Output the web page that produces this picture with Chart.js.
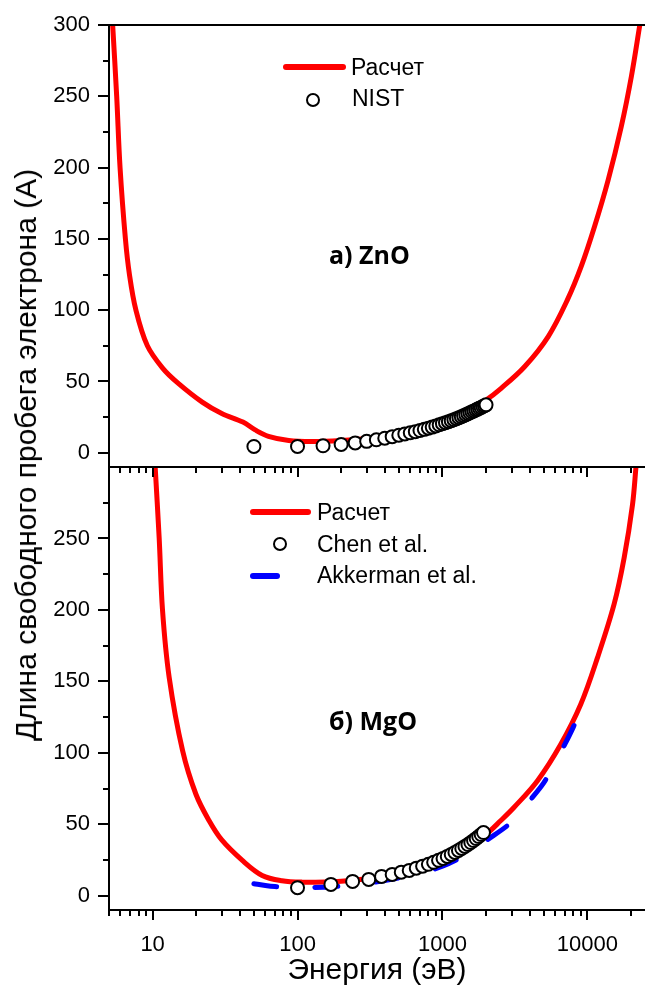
<!DOCTYPE html>
<html><head><meta charset="utf-8">
<script src="https://cdn.jsdelivr.net/npm/chart.js@4.4.1/dist/chart.umd.min.js"></script>
<style>
html,body{margin:0;padding:0;background:#fff;overflow:hidden;}
#wrap{position:relative;width:645px;height:996px;background:#fff;font-family:"Liberation Sans",Arial,sans-serif;color:#000;overflow:hidden;}
canvas{position:absolute;left:0;}
#cTop{top:0;z-index:2;}
#cBot{top:440px;z-index:1;}
.t{position:absolute;white-space:nowrap;line-height:1;z-index:3;}
.lg{font-size:23px;}
.pl{font-family:"Open Sans",sans-serif;font-weight:700;font-size:25px;}
.rl{position:absolute;height:6px;border-radius:3px;background:#ff0000;z-index:3;}
.bl{position:absolute;height:6px;border-radius:3px;background:#0000ff;z-index:3;}
.ci{position:absolute;width:14px;height:14px;box-sizing:border-box;border:2px solid #000;border-radius:50%;background:#fff;z-index:3;}
</style></head>
<body><div id="wrap">
<canvas id="cBot" width="645" height="556"></canvas>
<canvas id="cTop" width="645" height="490"></canvas>

<div class="rl" style="left:283px;top:64px;width:63px;"></div>
<div class="t lg" style="left:351px;top:55.5px;">Расчет</div>
<div class="ci" style="left:306px;top:93px;"></div>
<div class="t lg" style="left:352px;top:86.5px;">NIST</div>
<div class="t pl" style="left:329px;top:242px;">а) ZnO</div>

<div class="rl" style="left:250px;top:509px;width:61px;"></div>
<div class="t lg" style="left:317px;top:501px;">Расчет</div>
<div class="ci" style="left:273px;top:537px;"></div>
<div class="t lg" style="left:317px;top:533px;">Chen et al.</div>
<div class="bl" style="left:250px;top:573px;width:30px;"></div>
<div class="t lg" style="left:317px;top:564px;">Akkerman et al.</div>
<div class="t pl" style="left:329px;top:708px;">б) MgO</div>

<div class="t" style="left:26px;top:455px;font-size:30px;transform:translate(-50%,-50%) rotate(-90deg);">Длина свободного пробега электрона (A)</div>
</div>
<script>
// ---- axes ----
const xMin = 5, xMax = 25000;
const xMajorTicks = [10, 100, 1000, 10000];
const xMinorTicks = [5, 6, 7, 8, 9, 20, 30, 40, 50, 60, 70, 80, 90, 200, 300, 400, 500, 600, 700, 800, 900,
                     2000, 3000, 4000, 5000, 6000, 7000, 8000, 9000, 20000];
const yTicksTop = [0, 50, 100, 150, 200, 250, 300];
const yTicksBottom = [0, 50, 100, 150, 200, 250];
const yMinorTicks = [25, 75, 125, 175, 225, 275];

// ---- а) ZnO ----
const znoCalcE = [5.3, 5.65, 5.96, 6.49, 6.92, 7.67, 9.2, 11.8, 14.9, 22, 30, 42, 51, 63, 87, 126, 200, 300, 500,
                  1000, 1500, 2000, 2530, 3700, 5370, 7270, 9100, 11240, 13900, 17170, 20140, 23100];
const znoCalcL = [300, 250, 200, 150, 125, 100, 75, 59, 49, 35.5, 27.5, 21.5, 16, 11.5, 8.6, 7.9, 8.6, 10, 13.5,
                  21.5, 29.5, 37, 45, 60.5, 81.5, 107, 131, 159, 191, 229, 264, 301];
const nistE = [50, 100, 150, 200, 250, 300, 350, 400, 450, 500, 550, 600, 650, 700, 750, 800, 850, 900, 950, 1000,
               1050, 1100, 1150, 1200, 1250, 1300, 1350, 1400, 1450, 1500, 1550, 1600, 1650, 1700, 1750, 1800, 1850, 1900, 1950, 2000];
const nistL = [4.4, 4.4, 4.9, 5.8, 6.9, 8.0, 9.1, 10.2, 11.3, 12.3, 13.2, 14.0, 14.8, 15.6, 16.4, 17.2, 18.0, 18.8, 19.6, 20.4,
               21.1, 21.8, 22.5, 23.2, 23.9, 24.6, 25.3, 26.0, 26.7, 27.4, 28.0, 28.7, 29.3, 30.0, 30.6, 31.2, 31.8, 32.4, 33.0, 33.6];

// ---- б) MgO ----
const mgoCalcE = [10.4, 11.1, 11.7, 13.0, 16.1, 19.9, 24.5, 30, 41.6, 57, 78, 108, 180, 300, 500, 1000, 1500, 2000, 2530, 3126,
                  4530, 6560, 9010, 11750, 15300, 17950, 20500, 21700];
const mgoCalcL = [301, 250, 200, 153, 101.5, 71, 52.6, 39, 24.7, 14.2, 10.5, 9.5, 9.7, 11.8, 16.0, 26, 35, 43, 52.6, 61.9,
                  80.5, 106, 134, 166.6, 204, 236.5, 273.7, 301];
const chenE = [100, 170, 240, 310, 380, 450, 520, 590, 660, 730, 800, 870, 940, 1010, 1080, 1150, 1220, 1290, 1360, 1430,
               1500, 1570, 1640, 1710, 1780, 1850, 1920];
const chenL = [5.6, 7.9, 10.0, 11.4, 13.5, 14.9, 16.5, 17.7, 19.3, 20.7, 22.0, 23.4, 24.8, 26.1, 27.5, 28.9, 30.3, 31.7, 33.1, 34.5,
               35.8, 37.2, 38.6, 40.0, 41.4, 42.8, 44.2];
const akkE = [50, 60, 70, 80, 100, 150, 200, 300, 400, 500, 700, 1000, 1500, 2000, 3000, 4000, 5000, 6000, 7000, 8000, 9000, 10000];
const akkL = [8.4, 7.2, 6.4, 6.0, 5.7, 5.9, 6.9, 8.8, 10.6, 12.4, 15.8, 20.6, 29.5, 38.5, 51.5, 66.5, 79, 93, 106, 118, 130, 140.5];

const pts = (xs, ys) => xs.map((x, i) => ({x: x, y: ys[i]}));

Chart.defaults.font.family = '"Liberation Sans", Arial, sans-serif';
Chart.defaults.color = '#000';

const frame = {
  id: 'frame',
  afterDraw(chart, args, o) {
    const {ctx, chartArea: a} = chart;
    const xs = chart.scales.x, ys = chart.scales.y;
    ctx.save();
    ctx.strokeStyle = '#000';
    ctx.lineWidth = 2;
    ctx.beginPath();
    for (const v of o.yMajor.concat(yMinorTicks)) {
      if (v > ys.max) continue;
      const py = Math.round(ys.getPixelForValue(v));
      const len = o.yMajor.includes(v) ? 11 : 6;
      ctx.moveTo(a.left - len, py); ctx.lineTo(a.left, py);
    }
    for (const v of xMajorTicks.concat(xMinorTicks)) {
      const px = Math.round(xs.getPixelForValue(v));
      if (px < a.left || px > a.right) continue;
      const len = xMajorTicks.includes(v) ? 10 : 6;
      ctx.moveTo(px, a.bottom); ctx.lineTo(px, a.bottom + len);
    }
    ctx.stroke();
    ctx.beginPath();
    ctx.moveTo(a.right + 2, a.top); ctx.lineTo(a.left, a.top);
    ctx.lineTo(a.left, a.bottom); ctx.lineTo(a.right + 2, a.bottom);
    ctx.stroke();
    ctx.restore();
  }
};

const noPad = s => { s.paddingTop = 0; s.paddingBottom = 0; s.paddingLeft = 0; s.paddingRight = 0; };

function yScale(tickList) {
  return {
    type: 'linear', min: -10, max: 300,
    grid: {display: false, drawTicks: false}, border: {display: false},
    afterBuildTicks: s => { s.ticks = tickList.map(v => ({value: v})); },
    afterFit: s => { s.width = 109; noPad(s); },
    ticks: {padding: 19, font: {size: 22}, color: '#000', callback: v => String(v)}
  };
}

const common = {responsive: false, animation: false, devicePixelRatio: 1, events: []};

const circleStyle = {showLine: false, pointRadius: 6.5, pointBackgroundColor: '#fff', pointBorderColor: '#000', pointBorderWidth: 2};
const redStyle = {showLine: true, borderColor: '#ff0000', borderWidth: 5, pointRadius: 0, tension: 0.35, fill: false};

new Chart(document.getElementById('cTop'), {
  type: 'scatter',
  data: {datasets: [
    Object.assign({label: 'NIST', data: pts(nistE, nistL), order: 0}, circleStyle),
    Object.assign({label: 'Расчет', data: pts(znoCalcE, znoCalcL), order: 2}, redStyle)
  ]},
  options: Object.assign({}, common, {
    layout: {autoPadding: false, padding: {top: 25, bottom: 23, left: 0, right: 0}},
    plugins: {legend: {display: false}, tooltip: {enabled: false}, frame: {yMajor: yTicksTop}},
    scales: {
      x: {type: 'logarithmic', min: xMin, max: xMax, display: false, afterFit: noPad},
      y: yScale(yTicksTop)
    }
  }),
  plugins: [frame]
});

new Chart(document.getElementById('cBot'), {
  type: 'scatter',
  data: {datasets: [
    Object.assign({label: 'Chen et al.', data: pts(chenE, chenL), order: 0}, circleStyle),
    {label: 'Akkerman et al.', data: pts(akkE, akkL), order: 1, showLine: true, borderColor: '#0000ff', borderWidth: 5,
     borderDash: [23, 38], borderCapStyle: 'round', pointRadius: 0, tension: 0.3, fill: false},
    Object.assign({label: 'Расчет', data: pts(mgoCalcE, mgoCalcL), order: 2}, redStyle)
  ]},
  options: Object.assign({}, common, {
    layout: {autoPadding: false, padding: {top: 27, bottom: 0, left: 0, right: 0}},
    plugins: {legend: {display: false}, tooltip: {enabled: false}, frame: {yMajor: yTicksBottom}},
    scales: {
      x: {type: 'logarithmic', min: xMin, max: xMax,
          grid: {display: false, drawTicks: false}, border: {display: false},
          afterBuildTicks: s => { s.ticks = xMajorTicks.map(v => ({value: v})); },
          afterFit: s => { s.height = 86; noPad(s); },
          ticks: {padding: 22, font: {size: 22}, color: '#000', autoSkip: false, maxRotation: 0, minRotation: 0,
                  callback: v => String(v)},
          title: {display: true, text: 'Энергия (эВ)', font: {size: 30}, color: '#000', padding: {top: 0, bottom: 7}}},
      y: yScale(yTicksBottom)
    }
  }),
  plugins: [frame]
});
</script>
</body></html>
